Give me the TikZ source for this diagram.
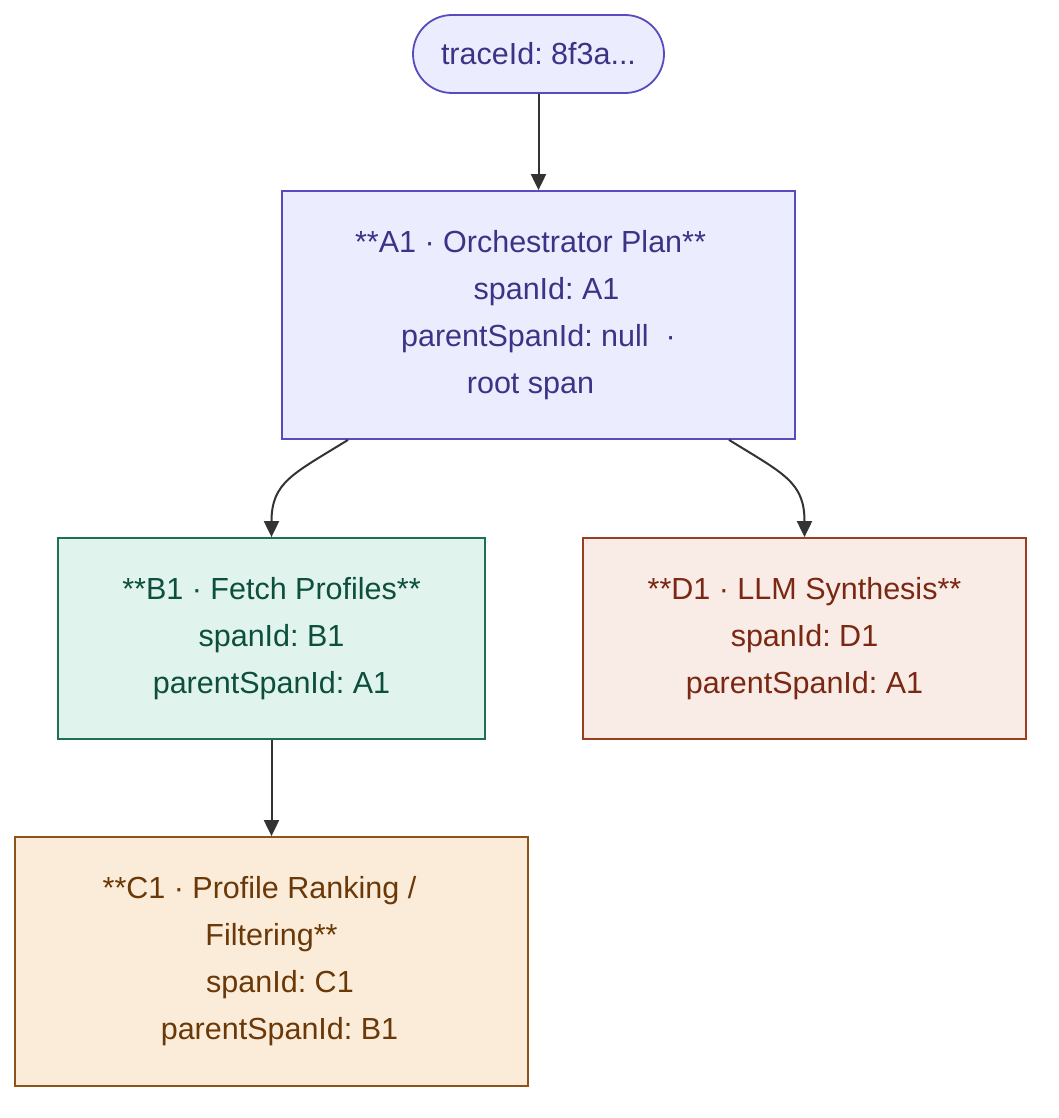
\documentclass[tikz,border=0pt]{standalone}
\usepackage{fontspec}
\setmainfont{Liberation Sans}
\usetikzlibrary{arrows.meta,calc}
\frenchspacing
\definecolor{pFill}{HTML}{ECECFF}
\definecolor{pDraw}{HTML}{574BBE}
\definecolor{pText}{HTML}{3B3486}
\definecolor{gFill}{HTML}{E0F3EC}
\definecolor{gDraw}{HTML}{1E6F56}
\definecolor{gText}{HTML}{0B4F3C}
\definecolor{rFill}{HTML}{F9EBE6}
\definecolor{rDraw}{HTML}{9A3E1F}
\definecolor{rText}{HTML}{7B2812}
\definecolor{oFill}{HTML}{FAECD9}
\definecolor{oDraw}{HTML}{8B5419}
\definecolor{oText}{HTML}{6B3807}
\definecolor{edgeC}{HTML}{333333}
\begin{document}
\begin{tikzpicture}[x=1pt,y=-1pt,
  box/.style={rectangle, line width=1.8pt, align=center, inner sep=0pt,
    font=\fontsize{30.5}{47}\selectfont\frenchspacing},
  spanbox/.style={box, fill=#1Fill, draw=#1Draw, text=#1Text},
  link/.style={draw=edgeC, line width=2pt, -{Triangle[length=16pt,width=15pt]}}]
\useasboundingbox (0,0) rectangle (1058,1118);
\fill[white] (0,0) rectangle (1058,1118);

\node[box, fill=pFill, draw=pDraw, text=pText, rounded corners=39pt,
  minimum width=251pt, minimum height=78pt] (trace) at (538.5,54) {traceId: 8f3a...};

\node[spanbox=p, minimum width=513pt, minimum height=248pt] (A1) at (538.5,315)
  {**A1 · Orchestrator Plan**\hspace*{16pt}\\
   \hspace*{16pt}spanId: A1\\
   parentSpanId: null\ \ ·\\
   root span\hspace*{16pt}};

\node[spanbox=g, minimum width=427pt, minimum height=201pt] (B1) at (271.5,638.5)
  {**B1 · Fetch Profiles**\\ spanId: B1\\ parentSpanId: A1};

\node[spanbox=r, minimum width=443pt, minimum height=201pt] (D1) at (804.5,638.5)
  {**D1 · LLM Synthesis**\\ spanId: D1\\ parentSpanId: A1};

\node[spanbox=o, minimum width=513pt, minimum height=249pt] (C1) at (271.5,961.5)
  {**C1 · Profile Ranking /\hspace*{24pt}\\
   Filtering**\hspace*{17pt}\\
   \hspace*{17pt}spanId: C1\\
   \hspace*{16pt}parentSpanId: B1};

\coordinate (aL) at ($(A1.south)+(-190.5,0)$);
\coordinate (aR) at ($(A1.south)+(190.5,0)$);

\draw[link] (trace.south) -- (A1.north);
\draw[link] (aL) .. controls +(-55,34) and +(0,-55) .. (B1.north);
\draw[link] (aR) .. controls +(55,34) and +(0,-55) .. (D1.north);
\draw[link] (B1.south) -- (C1.north);
\end{tikzpicture}
\end{document}
